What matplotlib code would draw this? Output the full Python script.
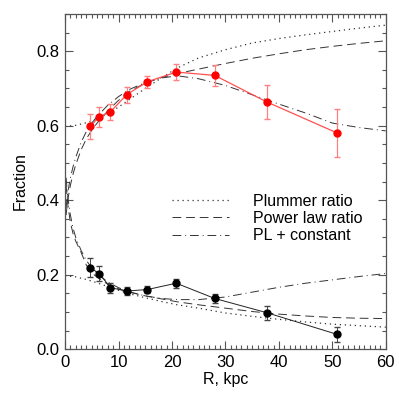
import numpy as np
import matplotlib
matplotlib.use("Agg")
import matplotlib.pyplot as plt
from matplotlib.ticker import MultipleLocator

# measured points
r_pts = [4.7, 6.4, 8.5, 11.5, 15.4, 20.8, 28.0, 37.7, 50.8]
red_y = [0.598, 0.624, 0.637, 0.683, 0.718, 0.744, 0.735, 0.664, 0.581]
red_err = [0.033, 0.027, 0.021, 0.022, 0.016, 0.021, 0.028, 0.045, 0.064]
blk_y = [0.219, 0.203, 0.165, 0.156, 0.160, 0.177, 0.136, 0.098, 0.040]
blk_err = [0.025, 0.020, 0.013, 0.010, 0.010, 0.012, 0.013, 0.019, 0.020]

# model curves
r_plum = [0, 2, 4, 6, 8, 10, 12, 15, 18, 21, 25, 30, 35, 40, 45, 50, 55, 60]
plum_hi = [0.598, 0.601, 0.608, 0.618, 0.632, 0.650, 0.670, 0.700, 0.728, 0.755,
           0.782, 0.804, 0.822, 0.834, 0.844, 0.853, 0.862, 0.870]
plum_lo = [0.197, 0.194, 0.187, 0.178, 0.168, 0.158, 0.149, 0.138, 0.128, 0.119,
           0.110, 0.097, 0.088, 0.080, 0.073, 0.067, 0.063, 0.059]

r_pl = [0.2, 0.5, 1, 1.5, 2, 3, 4, 5, 6, 8, 10, 12, 15, 18, 21, 25, 30, 35, 40, 45, 50, 55, 60]
pl_hi = [0.36, 0.40, 0.44, 0.47, 0.495, 0.535, 0.565, 0.588, 0.607, 0.640, 0.668, 0.692,
         0.714, 0.729, 0.740, 0.752, 0.767, 0.781, 0.793, 0.804, 0.813, 0.821, 0.828]
pl_lo = [0.44, 0.39, 0.34, 0.31, 0.29, 0.26, 0.225, 0.205, 0.193, 0.174, 0.162, 0.153,
         0.143, 0.135, 0.127, 0.119, 0.110, 0.101, 0.094, 0.089, 0.085, 0.083, 0.082]
plc_hi = [0.38, 0.42, 0.46, 0.49, 0.515, 0.555, 0.585, 0.607, 0.625, 0.655, 0.678, 0.697,
          0.716, 0.728, 0.734, 0.726, 0.708, 0.683, 0.658, 0.634, 0.607, 0.595, 0.586]
plc_lo = [0.46, 0.41, 0.36, 0.325, 0.30, 0.265, 0.238, 0.218, 0.203, 0.180, 0.165, 0.154,
          0.143, 0.136, 0.133, 0.133, 0.140, 0.153, 0.166, 0.177, 0.186, 0.195, 0.203]

plt.rcParams['font.family'] = ['Liberation Sans', 'DejaVu Sans']
plt.rcParams['font.size'] = 11.5

fig = plt.figure(figsize=(3.99, 3.99), dpi=100)
ax = fig.add_axes([0.163, 0.125, 0.804, 0.840])

lc = '#333333'
ax.plot(r_plum, plum_hi, color=lc, lw=0.9, ls=(0, (1, 3)), label='Plummer ratio')
ax.plot(r_plum, plum_lo, color=lc, lw=0.9, ls=(0, (1, 3)))
ax.plot(r_pl, pl_hi, color=lc, lw=0.7, ls=(0, (9, 5)), label='Power law ratio')
ax.plot(r_pl, pl_lo, color=lc, lw=0.7, ls=(0, (9, 5)))
ax.plot(r_pl, plc_hi, color=lc, lw=0.7, ls=(0, (9, 4, 1, 4)), label='PL + constant')
ax.plot(r_pl, plc_lo, color=lc, lw=0.7, ls=(0, (9, 4, 1, 4)))

ax.errorbar(r_pts, red_y, yerr=red_err, color='#ff5050', ecolor='#ff8080', lw=0.9,
            elinewidth=0.9, capsize=2, marker='o', ms=5, mfc='red', mec='red')
ax.errorbar(r_pts, blk_y, yerr=blk_err, color='#222222', ecolor='#444444', lw=0.7,
            elinewidth=0.7, capsize=2, marker='o', ms=5, mfc='black', mec='black')

ax.set_xlim(0, 60)
ax.set_ylim(0, 0.9)
ax.xaxis.set_major_locator(MultipleLocator(10))
ax.xaxis.set_minor_locator(MultipleLocator(1))
ax.yaxis.set_major_locator(MultipleLocator(0.2))
ax.yaxis.set_minor_locator(MultipleLocator(0.05))
ax.yaxis.set_major_formatter(plt.FormatStrFormatter('%.1f'))
ax.tick_params(which='both', direction='in', top=True, right=True, colors='#555555',
               labelcolor='black', width=0.8, labelsize=12)
ax.tick_params(which='major', length=6, pad=4)
ax.tick_params(which='minor', length=3)
for s in ax.spines.values():
    s.set_color('#555555')
    s.set_linewidth(0.9)

ax.set_xlabel('R, kpc', labelpad=2)
ax.set_ylabel('Fraction', labelpad=6)

ax.legend(loc='upper left', bbox_to_anchor=(0.308, 0.488), frameon=False,
          handlelength=3.6, handletextpad=1.5, labelspacing=0.15, borderpad=0)

fig.savefig('out.png', dpi=100)
